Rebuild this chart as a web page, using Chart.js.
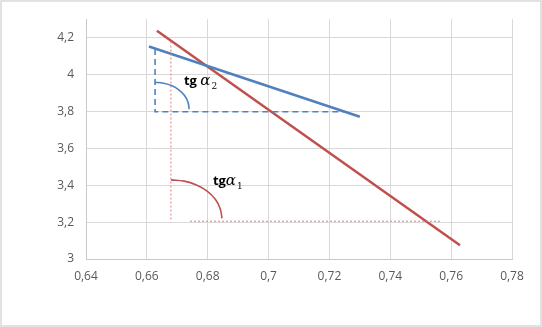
<!DOCTYPE html>
<html>
<head>
<meta charset="utf-8">
<script src="https://cdn.jsdelivr.net/npm/chart.js@4"></script>
<style>
  body { margin: 0; background: #fff; }
</style>
</head>
<body>
<canvas id="tgChart" width="542" height="327"></canvas>
<script>
// values
const redLineX = [0.6633, 0.7629];
const redLineY = [4.2375, 3.075];
const blueLineX = [0.6607, 0.7300];
const blueLineY = [4.152, 3.771];

const blueDashX = [0.6627, 0.6627, 0.7251];
const blueDashY = [4.138, 3.798, 3.798];
const blueArcX = [0.6626, 0.6655, 0.6683, 0.6706, 0.6724, 0.6735, 0.6739];
const blueArcY = [3.958, 3.953, 3.939, 3.916, 3.886, 3.851, 3.813];

const redDotVX = [0.6679, 0.6679];
const redDotVY = [4.179, 3.205];
const redDotHX = [0.6742, 0.7563];
const redDotHY = [3.205, 3.205];
const redArcX = [0.6679, 0.6723, 0.6763, 0.6798, 0.6825, 0.6841, 0.6847];
const redArcY = [3.429, 3.422, 3.401, 3.368, 3.324, 3.273, 3.220];

const xTicks = [0.64, 0.66, 0.68, 0.7, 0.72, 0.74, 0.76, 0.78];
const yTicks = [3, 3.2, 3.4, 3.6, 3.8, 4, 4.2];

const RED = '#C0504D';
const BLUE = '#4F81BD';

function pts(xs, ys) {
  return xs.map((x, i) => ({ x: x, y: ys[i] }));
}
function comma(v) {
  return String(Number(v.toFixed(2))).replace('.', ',');
}

// text labels: anchor in data units
const angleLabels = [
  { x: 0.6722, y: 3.943, tg: 'tg ', sub: '2' },
  { x: 0.6817, y: 3.402, tg: 'tg', sub: '1' }
];

const framePlugin = {
  id: 'frame',
  beforeDraw(chart) {
    const ctx = chart.ctx;
    ctx.save();
    ctx.fillStyle = '#fff';
    ctx.fillRect(0, 0, chart.width, chart.height);
    ctx.strokeStyle = '#d9d9d9';
    ctx.lineWidth = 1.5;
    ctx.strokeRect(1, 1, chart.width - 2, chart.height - 2);
    ctx.restore();
  }
};

const labelPlugin = {
  id: 'angleLabels',
  afterDatasetsDraw(chart) {
    const { ctx, scales: { x, y } } = chart;
    ctx.save();
    ctx.fillStyle = '#000';
    ctx.textBaseline = 'alphabetic';
    angleLabels.forEach(l => {
      let px = x.getPixelForValue(l.x);
      const py = y.getPixelForValue(l.y);
      ctx.font = 'bold 13px "Open Sans"';
      ctx.fillText(l.tg, px, py);
      px += ctx.measureText(l.tg).width;
      ctx.font = 'italic 15px "DejaVu Serif"';
      ctx.fillText('\u03B1', px, py);
      px += ctx.measureText('\u03B1').width;
      ctx.font = '9px "DejaVu Serif"';
      ctx.fillText(l.sub, px + 1, py + 4);
    });
    ctx.restore();
  }
};

const config = {
  type: 'scatter',
  data: {
    datasets: [
      { data: pts(blueDashX, blueDashY), borderColor: BLUE, borderWidth: 1.6, borderDash: [6, 4] },
      { data: pts(blueArcX, blueArcY), borderColor: BLUE, borderWidth: 1.6, tension: 0.4 },
      { data: pts(redDotVX, redDotVY), borderColor: '#E07B7B', borderWidth: 1, borderDash: [2, 2] },
      { data: pts(redDotHX, redDotHY), borderColor: '#E07B7B', borderWidth: 1, borderDash: [2, 2] },
      { data: pts(redArcX, redArcY), borderColor: RED, borderWidth: 1.6, tension: 0.4 },
      { data: pts(blueLineX, blueLineY), borderColor: BLUE, borderWidth: 2.5 },
      { data: pts(redLineX, redLineY), borderColor: RED, borderWidth: 2.5 }
    ].map(d => Object.assign({ showLine: true, pointRadius: 0, fill: false }, d))
  },
  options: {
    responsive: false,
    animation: false,
    layout: { padding: { top: 16, right: 30, left: 0, bottom: 0 } },
    plugins: { legend: { display: false }, tooltip: { enabled: false } },
    scales: {
      x: {
        type: 'linear',
        min: xTicks[0],
        max: xTicks[xTicks.length - 1],
        afterBuildTicks: s => { s.ticks = xTicks.map(v => ({ value: v })); },
        afterFit: s => { s.height = 68; },
        grid: { color: '#d9d9d9', drawTicks: false },
        border: { color: '#c8c8c8' },
        ticks: {
          padding: 10,
          color: '#595959',
          font: { family: 'Open Sans', size: 12 },
          callback: v => comma(v)
        }
      },
      y: {
        min: 3,
        max: 4.3,
        afterBuildTicks: s => { s.ticks = yTicks.map(v => ({ value: v })); },
        afterFit: s => { s.width = 86; },
        grid: { color: '#d9d9d9', drawTicks: false },
        border: { color: '#c8c8c8' },
        ticks: {
          padding: 12,
          color: '#595959',
          font: { family: 'Open Sans', size: 12 },
          callback: v => comma(v)
        }
      }
    }
  },
  plugins: [framePlugin, labelPlugin]
};

const tgChart = new Chart(document.getElementById('tgChart'), config);
</script>
</body>
</html>
